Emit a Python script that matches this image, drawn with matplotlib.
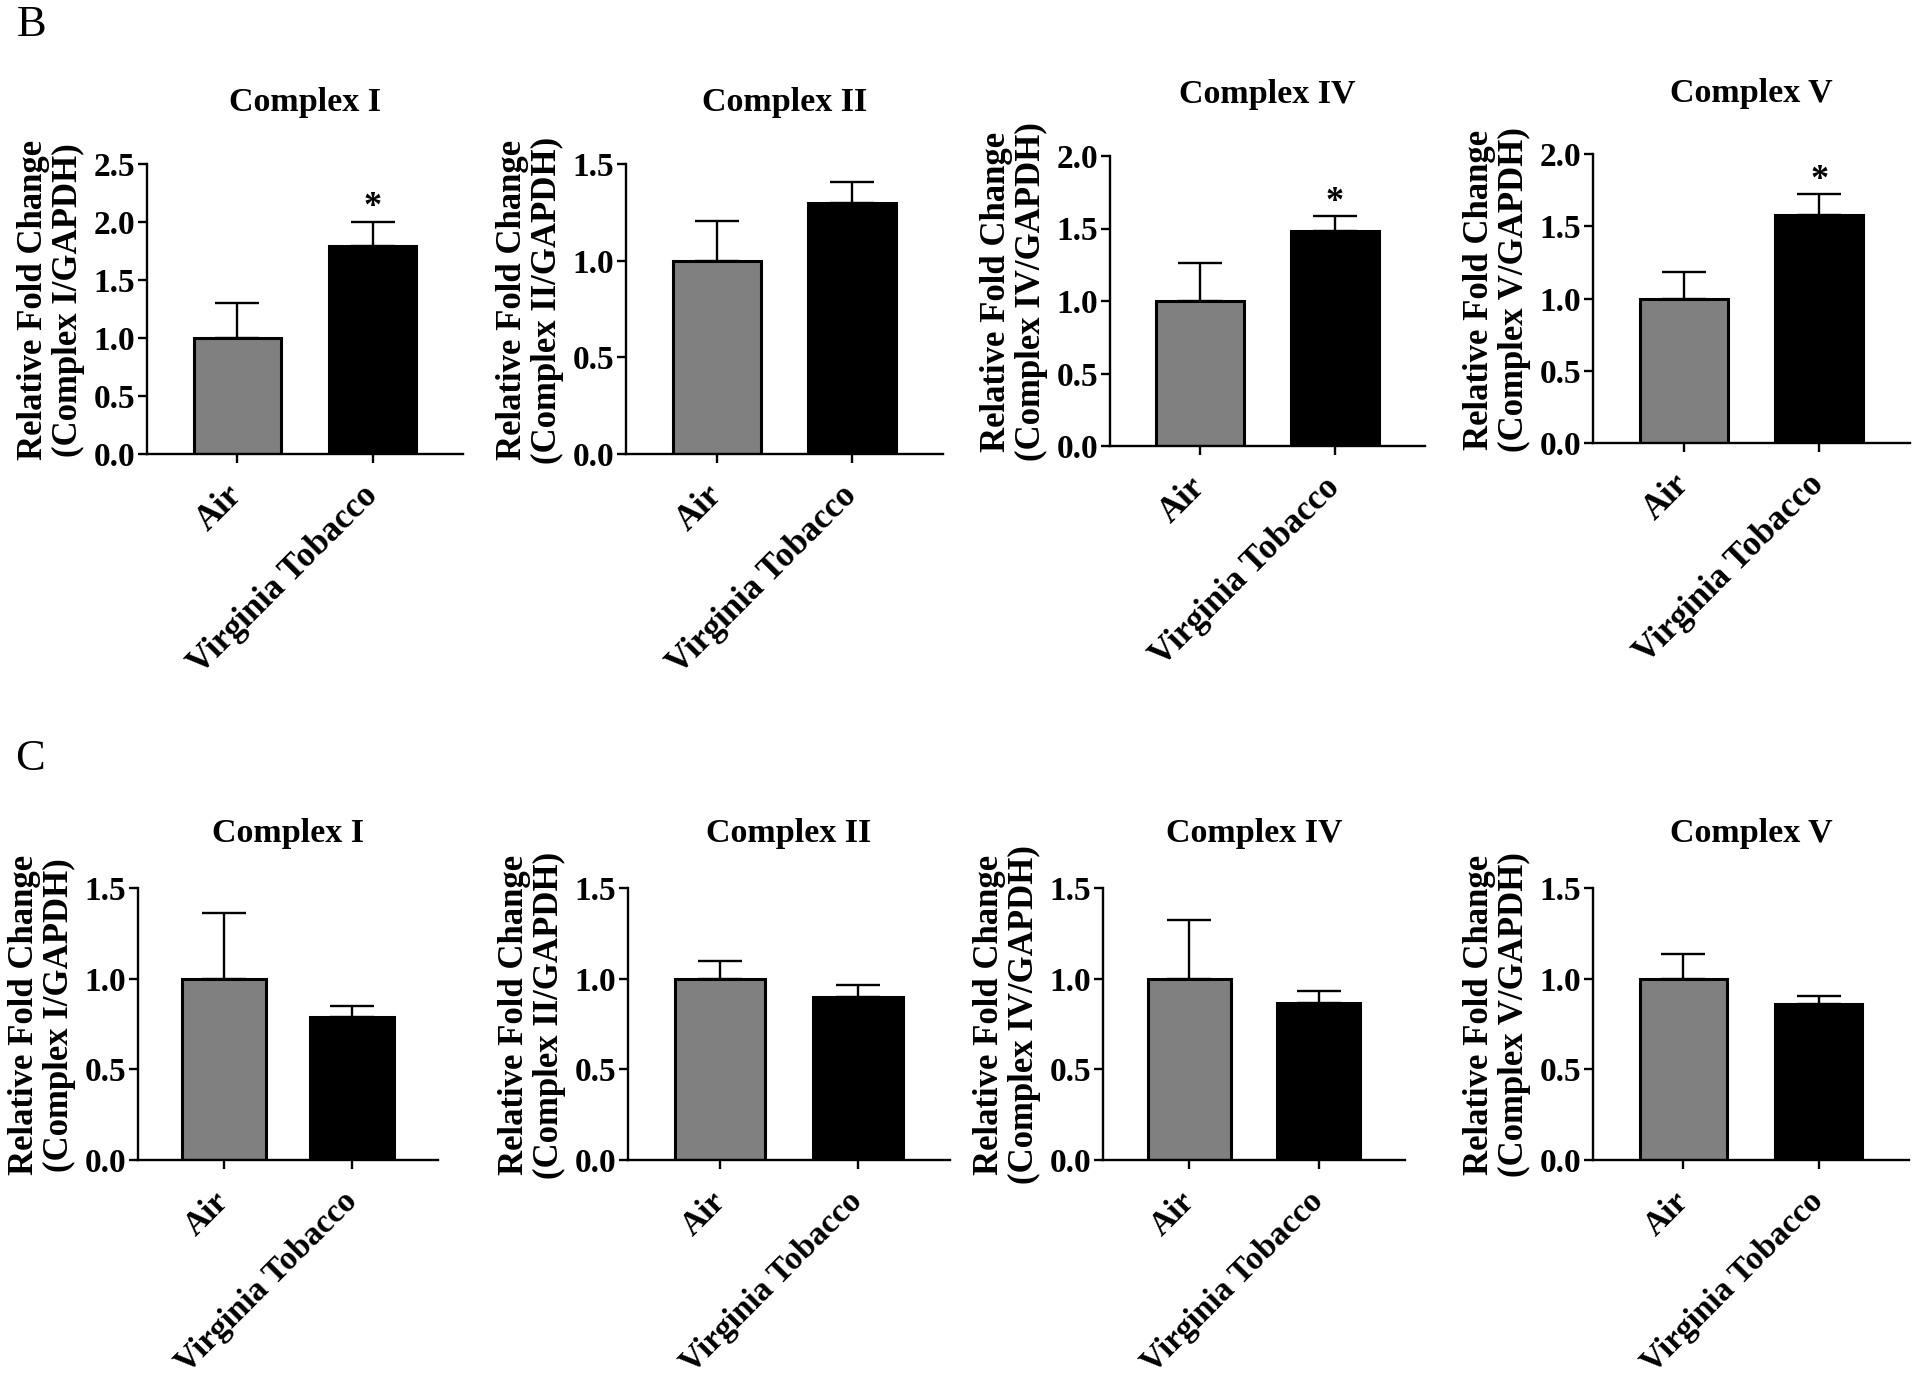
import numpy as np
import matplotlib
matplotlib.use('Agg')
import matplotlib.pyplot as plt

W, H = 1920, 1376
plt.rcParams['font.family'] = ['Liberation Serif', 'DejaVu Serif']
plt.rcParams['font.weight'] = 'bold'

groups = ['Air', 'Virginia Tobacco']
titles = ['Complex I', 'Complex II', 'Complex IV', 'Complex V']
ylabels = ['Relative Fold Change\n(Complex I/GAPDH)',
           'Relative Fold Change\n(Complex II/GAPDH)',
           'Relative Fold Change\n(Complex IV/GAPDH)',
           'Relative Fold Change\n(Complex V/GAPDH)']

# Panel B
b_means = [[1.0, 1.79], [1.0, 1.30], [1.0, 1.48], [1.0, 1.58]]
b_sem = [[0.30, 0.21], [0.205, 0.107], [0.26, 0.105], [0.186, 0.14]]
b_ymax = [2.5, 1.5, 2.0, 2.0]
b_sig = [[False, True], [False, False], [False, True], [False, True]]

# Panel C
c_means = [[1.0, 0.786], [1.0, 0.90], [1.0, 0.868], [1.0, 0.858]]
c_sem = [[0.364, 0.064], [0.10, 0.064], [0.325, 0.066], [0.136, 0.048]]
c_ymax = [1.5, 1.5, 1.5, 1.5]
c_sig = [[False, False]] * 4

bar_colors = ['#808080', '#000000']

# layout (pixels: left, top, right, bottom)
b_boxes = [(147, 164, 463, 454), (626, 164, 943, 454),
           (1110, 156, 1425, 446), (1593, 154, 1910, 443)]
c_boxes = [(138, 888, 438, 1160), (628, 888, 950, 1160),
           (1103, 888, 1405, 1160), (1593, 888, 1909, 1160)]

fig = plt.figure(figsize=(W / 100, H / 100), dpi=100)


def draw(box, title, ylabel, means, sems, ymax, sig, title_off, xt_size):
    x0, y0, x1, y1 = box
    ax = fig.add_axes([x0 / W, 1 - y1 / H, (x1 - x0) / W, (y1 - y0) / H])
    xs = np.arange(len(groups))
    ax.bar(xs, means, width=0.65, color=bar_colors, edgecolor='black',
           linewidth=2.2, zorder=2)
    for xi, m, s, sg in zip(xs, means, sems, sig):
        ax.errorbar(xi, m, yerr=[[0], [s]], fmt='none', ecolor='black',
                    elinewidth=1.7, capsize=16, capthick=1.7, zorder=1)
        if sg:
            ax.annotate('*', xy=(xi, m + s), xytext=(0, 4),
                        textcoords='offset points', ha='center',
                        va='baseline', fontsize=26)
    ax.set_xlim(-0.67, 1.67)
    ax.set_ylim(0, ymax)
    ticks = np.arange(0, ymax + 0.001, 0.5)
    ax.set_yticks(ticks)
    ax.set_yticklabels(['%.1f' % t for t in ticks])
    for s in ['top', 'right']:
        ax.spines[s].set_visible(False)
    for s in ['left', 'bottom']:
        ax.spines[s].set_linewidth(1.7)
    ax.tick_params(axis='both', width=1.7, length=6.5, labelsize=24)
    ax.tick_params(axis='y', pad=2)
    ax.tick_params(axis='x', pad=20)
    ax.set_xticks(xs)
    ax.set_xticklabels(groups, rotation=45, ha='right', va='center',
                       rotation_mode='anchor', fontsize=xt_size)
    ax.annotate(title, xy=(0.5, 1), xycoords='axes fraction',
                xytext=(0, title_off * 0.72), textcoords='offset points',
                ha='center', va='center', fontsize=24.5)
    lx = x0 - 96
    ly = (y0 + y1) / 2 - 9
    fig.text(lx / W, 1 - ly / H, ylabel, rotation=90, ha='center',
             va='center', multialignment='center', fontsize=25,
             linespacing=1.08)


for i in range(4):
    draw(b_boxes[i], titles[i], ylabels[i], b_means[i], b_sem[i],
         b_ymax[i], b_sig[i], 61, 25)
    draw(c_boxes[i], titles[i], ylabels[i], c_means[i], c_sem[i],
         c_ymax[i], c_sig[i], 55, 24)

fig.text(17 / W, 1 - 25 / H, 'B', fontsize=32, fontweight='normal',
         ha='left', va='center')
fig.text(15 / W, 1 - 759 / H, 'C', fontsize=32, fontweight='normal',
         ha='left', va='center')

fig.savefig('out.png', dpi=100)
